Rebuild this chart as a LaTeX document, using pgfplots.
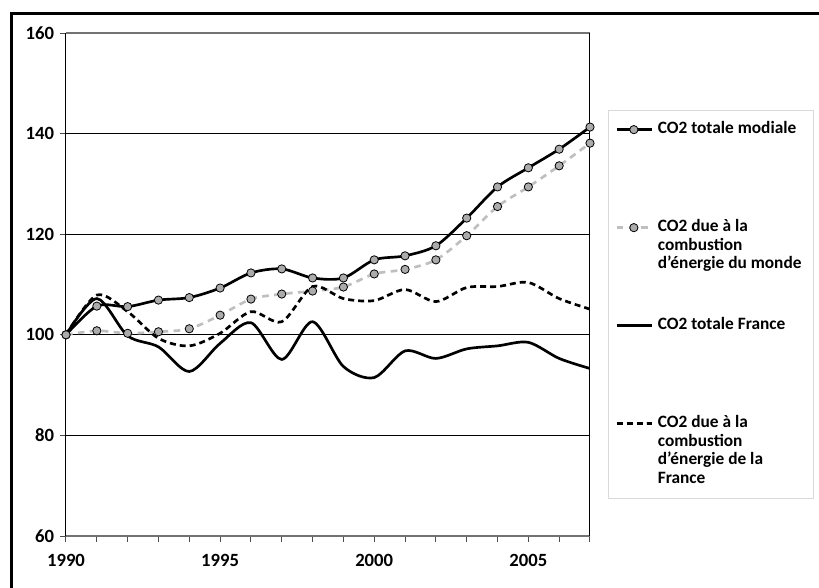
\documentclass[border=0pt]{standalone}
\usepackage{fontspec}
\setmainfont{Carlito}
\usepackage{pgfplots}
\pgfplotsset{compat=1.18}
\begin{document}
\fontsize{13}{13.9}\selectfont\bfseries
\begin{tikzpicture}
\useasboundingbox (0,0) rectangle (614.25pt,440.25pt);
\draw[line width=2.25pt] (8.6pt,-30pt) rectangle (700pt,430.1pt);
\begin{axis}[
  at={(49.5pt,38.25pt)}, anchor=south west,
  scale only axis, width=393pt, height=377.25pt,
  xmin=1990, xmax=2007, ymin=60, ymax=160,
  xtick={1990,...,2007},
  xticklabels={1990,,,,,1995,,,,,2000,,,,,2005,,},
  ytick={60,80,...,160},
  ymajorgrids, grid style={black, line width=0.6pt},
  tick align=outside, xtick pos=bottom, ytick pos=left,
  major tick length=4.5pt,
  tick style={black!70, line width=0.75pt},
  separate axis lines,
  x axis line style={black!55, line width=1pt},
  y axis line style={black, line width=0.75pt},
  /pgf/number format/assume math mode=true,
  tick label style={font=\fontsize{14}{15}\selectfont\bfseries},
  xticklabel style={yshift=-5pt},
  legend style={at={(1.0344,0.8469)}, anchor=north west, draw=black!15, line width=0.75pt,
    inner xsep=5pt, inner ysep=8pt, column sep=4pt,
    font=\fontsize{13}{13.9}\selectfont\bfseries},
  legend cell align=left,
  legend style={cells={anchor=mid west}, nodes={inner sep=0pt}},
  legend image code/.code={\draw[mark repeat=2,mark phase=2,#1] plot coordinates {(0pt,0pt) (13pt,0pt) (26pt,0pt)};},
]
\addplot[black, line width=2pt, smooth, tension=0.5, mark=*, mark size=3.1pt,
  mark options={fill=black!33, draw=black, line width=0.6pt, solid}]
  coordinates {(1990,100) (1991,105.7) (1992,105.6) (1993,106.9) (1994,107.4) (1995,109.3)
  (1996,112.3) (1997,113.1) (1998,111.3) (1999,111.3) (2000,114.9) (2001,115.7)
  (2002,117.7) (2003,123.2) (2004,129.4) (2005,133.2) (2006,136.9) (2007,141.3)};
\addlegendentry[text height=9.5pt, text depth=64pt]{\parbox[t]{112pt}{CO2 totale modiale}}
\addplot[black!25, line width=2pt, dash pattern=on 5pt off 4pt, smooth, tension=0.5, mark=*, mark size=3.1pt,
  mark options={fill=black!33, draw=black, line width=0.6pt, solid}]
  coordinates {(1990,100) (1991,100.8) (1992,100.3) (1993,100.6) (1994,101.2) (1995,103.9)
  (1996,107.1) (1997,108.1) (1998,108.7) (1999,109.5) (2000,112.1) (2001,113.0)
  (2002,114.9) (2003,119.7) (2004,125.5) (2005,129.4) (2006,133.6) (2007,138.1)};
\addlegendentry[text height=9.5pt, text depth=64pt]{\parbox[t]{112pt}{CO2 due à la\\combustion\\d’énergie du monde}}
\addplot[black, line width=2pt, smooth, tension=0.5]
  coordinates {(1990,100) (1991,107.2) (1992,99.8) (1993,97.6) (1994,92.7) (1995,98.3)
  (1996,102.4) (1997,95.1) (1998,102.6) (1999,93.7) (2000,91.5) (2001,96.8)
  (2002,95.3) (2003,97.2) (2004,97.8) (2005,98.5) (2006,95.3) (2007,93.3)};
\addlegendentry[text height=9.5pt, text depth=64pt]{\parbox[t]{112pt}{CO2 totale France}}
\addplot[black, line width=2pt, dash pattern=on 4.5pt off 3pt, smooth, tension=0.5]
  coordinates {(1990,100) (1991,107.9) (1992,104.6) (1993,99.3) (1994,97.8) (1995,100.3)
  (1996,104.6) (1997,102.6) (1998,109.6) (1999,107.2) (2000,106.8) (2001,109.0)
  (2002,106.6) (2003,109.4) (2004,109.6) (2005,110.4) (2006,107.2) (2007,105.1)};
\addlegendentry[text height=9.5pt, text depth=45pt]{\parbox[t]{112pt}{CO2 due à la\\combustion\\d’énergie de la\\France}}
\end{axis}
\end{tikzpicture}
\end{document}
